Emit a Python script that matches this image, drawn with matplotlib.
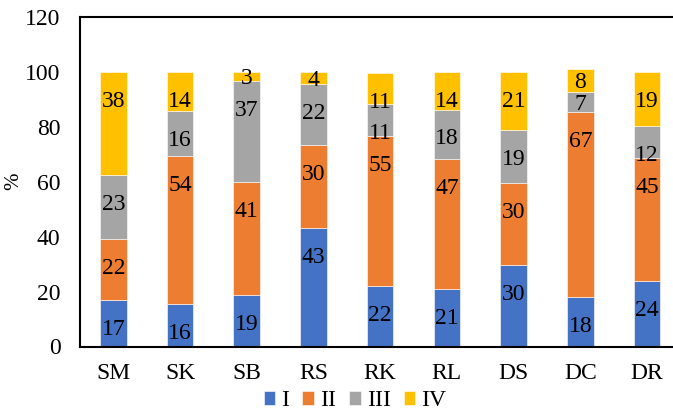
import matplotlib.pyplot as plt
import numpy as np

plt.rcParams['font.family'] = ['Liberation Serif', 'DejaVu Serif']

# Data (segment heights in %, labels show them rounded)
sites = ['SM', 'SK', 'SB', 'RS', 'RK', 'RL', 'DS', 'DC', 'DR']
class_names = ['I', 'II', 'III', 'IV']
class_i = [17.0, 15.6, 18.8, 43.3, 22.1, 20.9, 29.6, 18.0, 23.8]
class_ii = [22.0, 53.7, 41.2, 30.1, 54.7, 47.3, 29.9, 67.4, 44.8]
class_iii = [23.4, 16.4, 36.8, 22.2, 11.4, 18.1, 19.2, 7.4, 11.8]
class_iv = [37.6, 14.3, 3.2, 4.4, 11.4, 13.7, 21.3, 8.2, 19.4]
colors = ['#4472C4', '#ED7D31', '#A5A5A5', '#FFC000']

fig = plt.figure(figsize=(6.73, 4.12), dpi=100)
ax = fig.add_axes([80 / 673, 65.5 / 412, 593 / 673, 329.5 / 412])

x = np.arange(len(sites))
bottom = np.zeros(len(sites))
for name, vals, col in zip(class_names, [class_i, class_ii, class_iii, class_iv], colors):
    vals = np.array(vals)
    ax.bar(x, vals, 0.4, bottom=bottom, color=col, label=name,
           edgecolor='white', linewidth=0.4)
    # labels sit near the top of each segment, centred on short ones
    for xi, b, v in zip(x, bottom, vals):
        y = b + v - 9.8 if v > 10 else b + v / 2
        ax.text(xi, y, f'{v:.0f}', ha='center', va='center_baseline', fontsize=17)
    bottom += vals

ax.set_xlim(-0.5, (673 - 80) / 66.7 - 0.5)
ax.set_ylim(0, 120)
ax.set_yticks(range(0, 121, 20))
ax.set_xticks(x)
ax.set_xticklabels(sites)
ax.tick_params(length=0, labelsize=17)
ax.tick_params(axis='y', pad=14)
ax.tick_params(axis='x', pad=12)
ax.spines['right'].set_visible(False)
for s in ['left', 'bottom', 'top']:
    ax.spines[s].set_linewidth(1.5)

# y axis title
fig.text(14 / 673, 1 - 181 / 412, '%', rotation=90, ha='center', va='center', fontsize=15)

fig.legend(loc='center', bbox_to_anchor=(355 / 673, 11 / 412), ncol=4, frameon=False,
           fontsize=17, handlelength=0.5, handleheight=0.5, handletextpad=0.25,
           columnspacing=0.55, borderaxespad=0)

fig.savefig('out.png', dpi=100)
